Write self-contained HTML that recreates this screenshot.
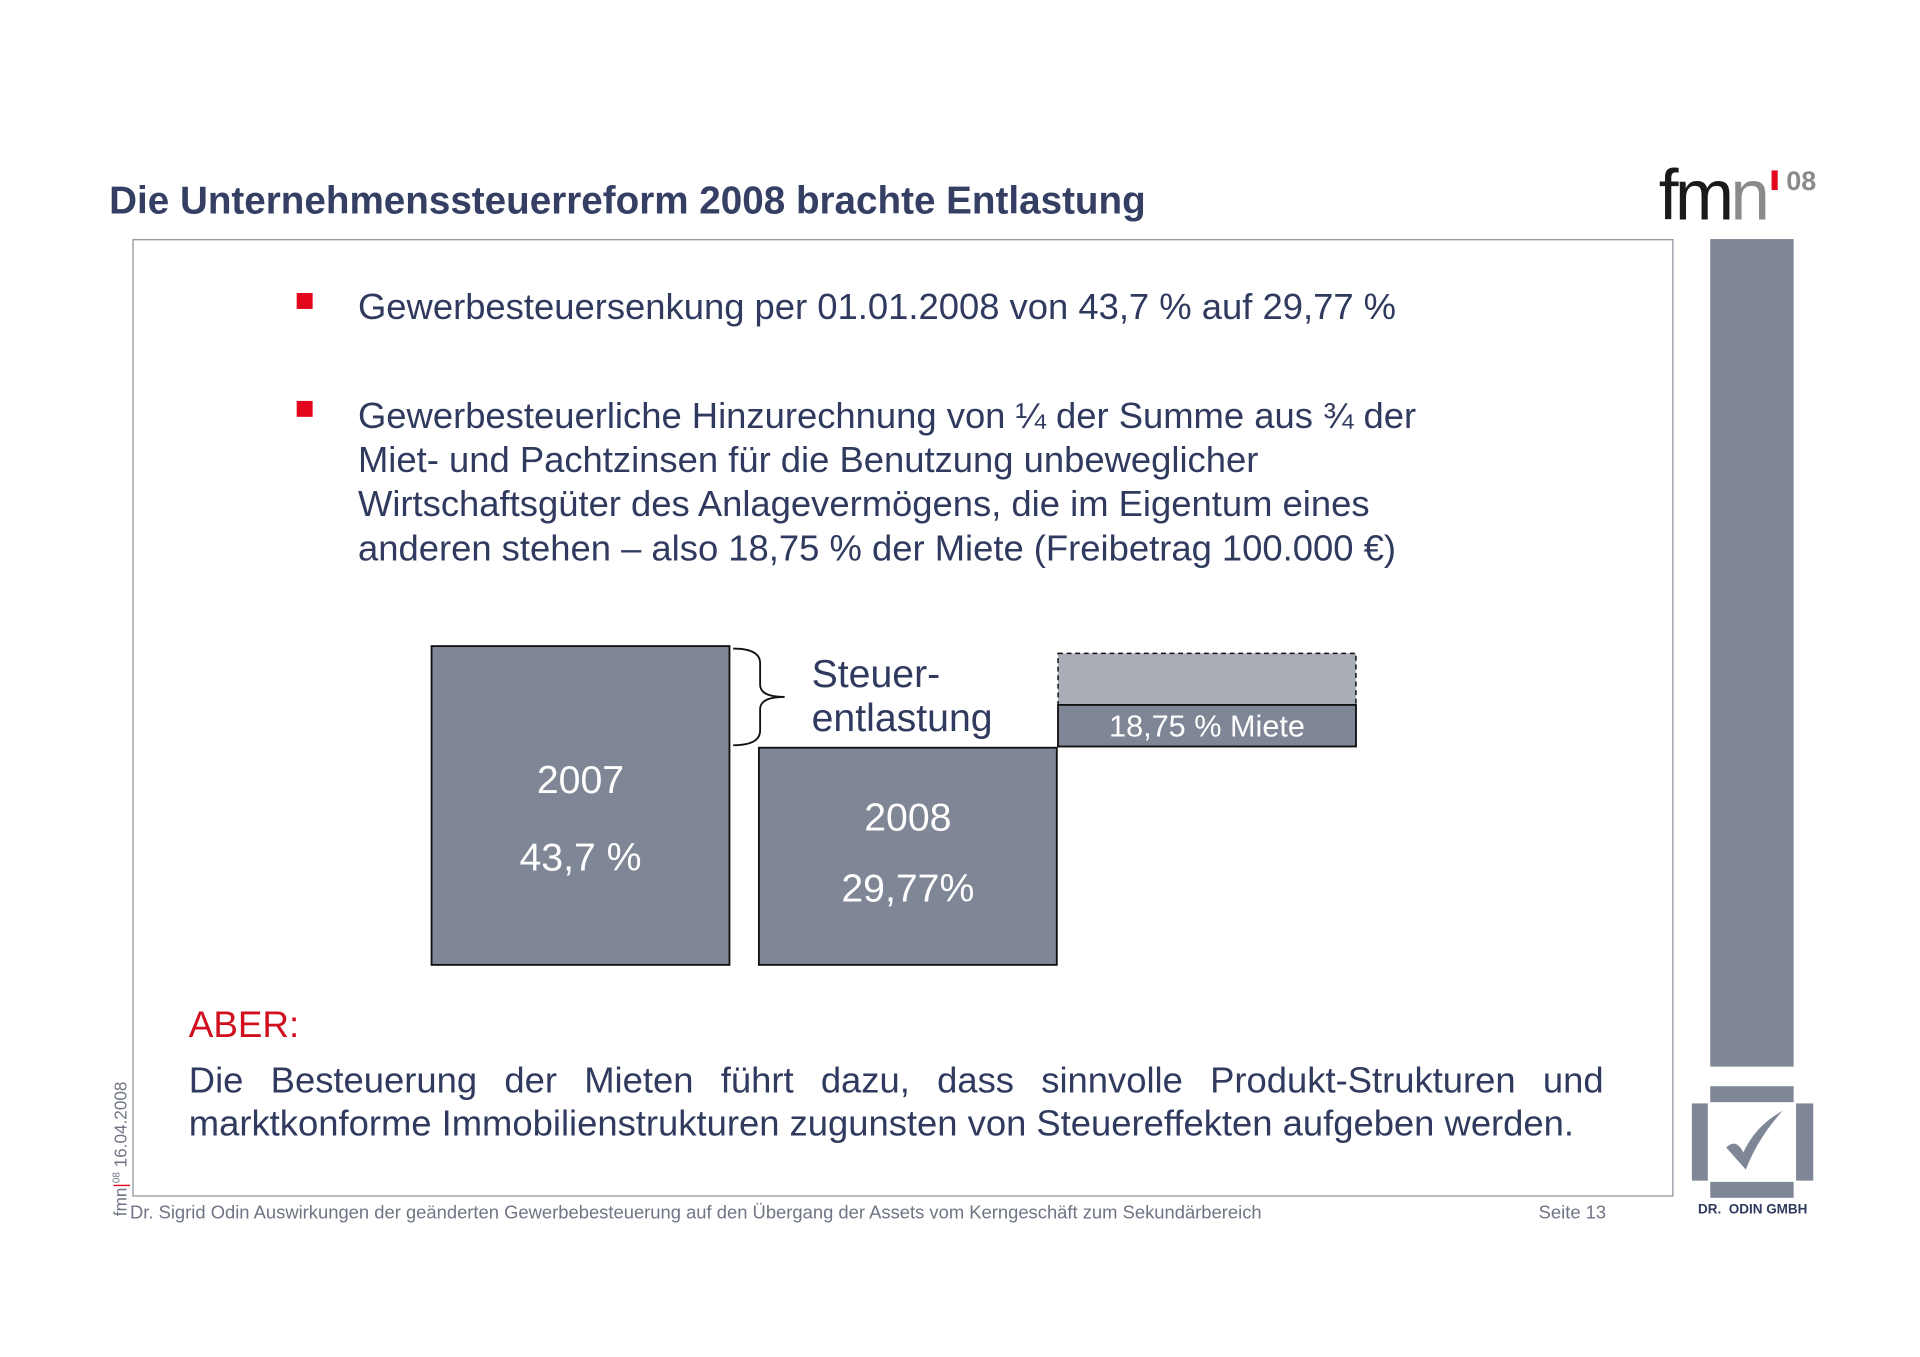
<!DOCTYPE html>
<html><head><meta charset="utf-8">
<style>
html,body{margin:0;padding:0;background:#fff;}
body{width:1920px;height:1357px;overflow:hidden;position:relative;}
#s{position:absolute;left:0;top:0;width:1566px;height:1107px;transform:scale(1.226);transform-origin:0 0;font-family:"Liberation Sans",Arial,sans-serif;color:#2f3a5e;}
.a{position:absolute;white-space:nowrap;}
.t{font-size:29.7px;}
.bul{position:absolute;width:13px;height:13px;background:#e3051b;}
</style></head><body>
<div id="s">
  <div class="a" style="left:89px;top:145px;font-size:31.5px;font-weight:bold;color:#353f63;">Die Unternehmenssteuerreform 2008 brachte Entlastung</div>
  <div class="a" style="left:1353px;top:126px;font-size:58px;letter-spacing:-3px;color:#1a1a1a;">fm<span style="color:#8a8a8a">n</span></div>
  <div class="a" style="left:1445px;top:139px;width:5px;height:16px;background:#e3051b;"></div>
  <div class="a" style="left:1457px;top:135px;font-size:22px;color:#8a8a8a;font-weight:bold;">08</div>

  <div class="a" style="left:108px;top:195px;width:1257px;height:781px;border:1px solid #8c919c;box-sizing:border-box;"></div>
  <div class="a" style="left:1395px;top:195px;width:68px;height:675px;background:#7f8796;"></div>

  <div class="a" style="left:1380px;top:886px;width:100px;height:91px;">
    <div style="position:absolute;left:15px;top:0;width:68px;height:13px;background:#7f8796"></div>
    <div style="position:absolute;left:0;top:14px;width:13px;height:63px;background:#7f8796"></div>
    <div style="position:absolute;left:85px;top:14px;width:14px;height:63px;background:#7f8796"></div>
    <div style="position:absolute;left:15px;top:78px;width:68px;height:13px;background:#7f8796"></div>
    <svg style="position:absolute;left:26px;top:18px" width="48" height="56"><path d="M2 32 Q10 24 16 36 Q26 14 48 2 Q28 24 18 50 Z" fill="#7f8796"/></svg>
  </div>
  <div class="a" style="left:1385px;top:981px;font-size:11px;font-weight:bold;color:#2f3a5e;">DR.&nbsp; ODIN GMBH</div>

  <div class="bul" style="left:242px;top:239px;"></div>
  <div class="a t" style="left:292px;top:234px;">Gewerbesteuersenkung per 01.01.2008 von 43,7 % auf 29,77 %</div>
  <div class="bul" style="left:242px;top:327px;"></div>
  <div class="a t" style="left:292px;top:322px;line-height:36px;">Gewerbesteuerliche Hinzurechnung von ¼ der Summe aus ¾ der<br>Miet- und Pachtzinsen für die Benutzung unbeweglicher<br>Wirtschaftsgüter des Anlagevermögens, die im Eigentum eines<br>anderen stehen – also 18,75 % der Miete (Freibetrag 100.000 €)</div>

  <svg class="a" id="chart" style="left:0;top:0;" width="1566" height="1107"></svg>

  <div class="a" style="left:154px;top:820px;font-size:30px;color:#d0101e;">ABER:</div>
  <div class="a t" style="left:154px;top:864px;width:1154px;white-space:normal;text-align:justify;text-align-last:left;line-height:35px;">Die Besteuerung der Mieten führt dazu, dass sinnvolle Produkt-Strukturen und marktkonforme Immobilienstrukturen zugunsten von Steuereffekten aufgeben werden.</div>
  <div class="a" style="left:106px;top:981px;font-size:15px;color:#6f7584;">Dr. Sigrid Odin Auswirkungen der geänderten Gewerbebesteuerung auf den Übergang der Assets vom Kerngeschäft zum Sekundärbereich</div>
  <div class="a" style="left:1255px;top:981px;font-size:15px;color:#6f7584;">Seite 13</div>
  <div class="a" style="left:90px;top:992px;font-size:14px;color:#6f7584;transform:rotate(-90deg);transform-origin:0 0;">fmn<span style="color:#e3051b">|</span><sup style="font-size:8px">08</sup> 16.04.2008</div>
</div>
<script>
const years = ["2007", "2008"];
const rates = [43.7, 29.77];
const rateLabels = ["43,7 %", "29,77%"];
const mieteShare = [5.7];
const mieteTop = [42.7];
const mieteLabel = ["18,75 % Miete"];

const NS = "http://www.w3.org/2000/svg";
const svg = document.getElementById("chart");
const baseY = 787, pxPer = 260 / 43.7;
const y = v => baseY - v * pxPer;
const xBar = i => 352 + i * 267;
const barW = 243;
const yearOff = [-10, -21], valOff = [53, 37];
function mk(tag, attrs){const e=document.createElementNS(NS,tag);for(const k in attrs)e.setAttribute(k,attrs[k]);svg.appendChild(e);return e;}

years.forEach((yr, i) => {
  const r = mk("rect",{x:xBar(i),y:y(rates[i]),width:barW,height:baseY-y(rates[i]),fill:"#7f8796",stroke:"#111","stroke-width":1.5});
  
  
  const cx = xBar(i) + barW/2, cy = (y(rates[i]) + baseY)/2;
  const t1 = mk("text",{x:cx,y:cy+yearOff[i],"text-anchor":"middle","font-size":32,fill:"#fff","font-family":"Liberation Sans, sans-serif"});
  t1.textContent = yr;
  
  
  const t2 = mk("text",{x:cx,y:cy+valOff[i],"text-anchor":"middle","font-size":32,fill:"#fff","font-family":"Liberation Sans, sans-serif"});
  t2.textContent = rateLabels[i];
  
  
});

const mx = xBar(1) + barW + 1;
const bandBottom = y(rates[1]) - 1;
const box = mk("rect",{x:mx,y:y(mieteTop[0]),width:barW,height:bandBottom-y(mieteTop[0]),fill:"#a8adb6",stroke:"#111","stroke-width":1.2,"stroke-dasharray":"4,3"});


const bandTop = bandBottom - mieteShare[0]*pxPer;
const band = mk("rect",{x:mx,y:bandTop,width:barW,height:bandBottom-bandTop,fill:"#7f8796",stroke:"#111","stroke-width":1.5});


const bt = mk("text",{x:mx+barW/2,y:(bandTop+bandBottom)/2+9,"text-anchor":"middle","font-size":25,fill:"#fff","font-family":"Liberation Sans, sans-serif"});
bt.textContent = mieteLabel[0];



const b1 = y(rates[0]) + 2, b2 = y(rates[1]) - 2, bm = (b1+b2)/2;
const br = mk("path",{d:`M598 ${b1} Q620 ${b1} 620 ${b1+12} L620 ${bm-10} Q620 ${bm} 640 ${bm} Q620 ${bm} 620 ${bm+10} L620 ${b2-12} Q620 ${b2} 598 ${b2}`,fill:"none",stroke:"#111","stroke-width":1.5});


const s1 = mk("text",{x:662,y:bm-8,"font-size":32,fill:"#2f3a5e","font-family":"Liberation Sans, sans-serif"});
s1.textContent = "Steuer-";


const s2 = mk("text",{x:662,y:bm+28,"font-size":32,fill:"#2f3a5e","font-family":"Liberation Sans, sans-serif"});
s2.textContent = "entlastung";


</script>
</body></html>
